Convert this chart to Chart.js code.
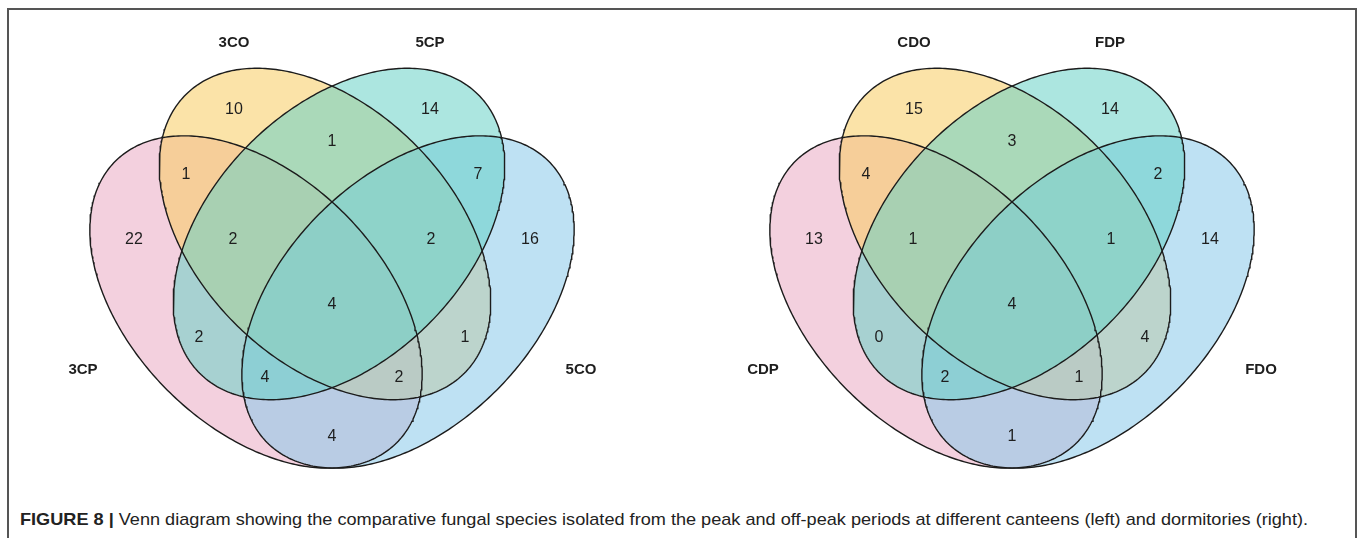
<!DOCTYPE html>
<html>
<head>
<meta charset="utf-8">
<script src="https://cdn.jsdelivr.net/npm/chart.js@4.4.0/dist/chart.umd.min.js"></script>
<style>
  html, body { margin: 0; padding: 0; background: #fff; }
  body { width: 1360px; height: 538px; position: relative; overflow: hidden; font-family: 'Liberation Sans', Arial, sans-serif; }
  .frame { position: absolute; left: 7px; top: 8px; width: 1346px; height: 600px; border: 2px solid #555; }
  .panel { position: absolute; top: 0; }
  #canteens { left: 0; }
  #dorms { left: 680px; }
  .caption { position: absolute; left: 20px; top: 510px; font-size: 17px; line-height: 19px; white-space: nowrap; color: #222; transform-origin: left top; }
</style>
</head>
<body>
<div class="frame"></div>
<canvas id="canteens" class="panel" width="680" height="480"></canvas>
<canvas id="dorms" class="panel" width="680" height="480"></canvas>
<div class="caption" id="caption"><b>FIGURE 8 |</b> Venn diagram showing the comparative fungal species isolated from the peak and off-peak periods at different canteens (left) and dormitories (right).</div>
<script>
// region order: A, B, C, D are the four sets (left-bottom, left-top, right-top, right-bottom)
const regionKeys = ['A', 'B', 'C', 'D', 'AB', 'AC', 'AD', 'BC', 'BD', 'CD', 'ABC', 'ABD', 'ACD', 'BCD', 'ABCD']

const canteenSets = ['3CP', '3CO', '5CP', '5CO']
const canteenCounts = [22, 10, 14, 16, 1, 2, 4, 1, 1, 7, 2, 2, 4, 2, 4]

const dormSets = ['CDP', 'CDO', 'FDP', 'FDO']
const dormCounts = [13, 15, 14, 14, 4, 0, 1, 3, 4, 2, 1, 1, 2, 1, 4]

// start: layout (diagram units, y up). layer = paint order, 0 at the bottom
const ellipses = [
    { cx: 0.512, cy: 0.356, a: 0.398, b: 0.250, rot: -45, layer: 0, fill: 'rgba(233,170,195,0.55)' },
    { cx: 0.650, cy: 0.492, a: 0.394, b: 0.254, rot: -45, layer: 1, fill: 'rgba(248,204,97,0.55)' },
    { cx: 0.678, cy: 0.492, a: 0.394, b: 0.254, rot: 45, layer: 3, fill: 'rgba(104,210,199,0.55)' },
    { cx: 0.816, cy: 0.356, a: 0.398, b: 0.250, rot: 45, layer: 2, fill: 'rgba(137,201,233,0.55)' }
]
const regionPos = {
    A: [0.268, 0.48], B: [0.468, 0.74], C: [0.86, 0.74], D: [1.06, 0.48],
    AB: [0.372, 0.61], AC: [0.398, 0.284], AD: [0.664, 0.086],
    BC: [0.664, 0.676], BD: [0.93, 0.284], CD: [0.956, 0.61],
    ABC: [0.466, 0.48], ABD: [0.798, 0.204], ACD: [0.53, 0.204], BCD: [0.862, 0.48],
    ABCD: [0.664, 0.35]
}
const setLabelPos = [[0.166, 0.22], [0.468, 0.874], [0.86, 0.874], [1.162, 0.22]]
// end: layout

function ellipsePoints(e) {
    const pts = []
    const r = e.rot * Math.PI / 180
    const n = 360
    for (let i = 0; i <= n; i++) {
        const t = i / n * 2 * Math.PI
        const px = e.a * Math.cos(t)
        const py = e.b * Math.sin(t)
        pts.push({ x: e.cx + px * Math.cos(r) - py * Math.sin(r), y: e.cy + px * Math.sin(r) + py * Math.cos(r) })
    }
    return pts
}

const regionLabels = {
    id: 'regionLabels',
    afterDatasetsDraw(chart, args, opts) {
        const { ctx } = chart
        const x = chart.scales.x
        const y = chart.scales.y
        ctx.save()
        ctx.fillStyle = '#1e1e1e'
        ctx.textAlign = 'center'
        ctx.textBaseline = 'middle'
        ctx.font = '16px "Liberation Sans", Arial, sans-serif'
        opts.counts.forEach(function (n, i) {
            const p = regionPos[regionKeys[i]]
            ctx.fillText(String(n), x.getPixelForValue(p[0]), y.getPixelForValue(p[1]))
        })
        ctx.font = 'bold 15px "Liberation Sans", Arial, sans-serif'
        opts.sets.forEach(function (s, i) {
            const p = setLabelPos[i]
            ctx.fillText(s, x.getPixelForValue(p[0]), y.getPixelForValue(p[1]))
        })
        ctx.restore()
    }
}

function drawVenn(id, sets, counts) {
    // chart.js paints the highest order first
    const datasets = sets.map(function (name, i) {
        return {
            label: name,
            data: ellipsePoints(ellipses[i]),
            order: 10 - ellipses[i].layer,
            showLine: true,
            fill: 'shape',
            backgroundColor: ellipses[i].fill,
            borderColor: '#1c1c1c',
            borderWidth: 1.4,
            pointRadius: 0,
            tension: 0
        }
    })

    new Chart(document.getElementById(id), {
        type: 'scatter',
        data: { datasets: datasets },
        options: {
            responsive: false,
            animation: false,
            layout: { padding: 0 },
            scales: {
                x: { type: 'linear', min: 0, max: 1.36, display: false },
                y: { type: 'linear', min: 0, max: 0.96, display: false }
            },
            plugins: {
                legend: { display: false },
                tooltip: { enabled: false },
                filler: { drawTime: 'beforeDatasetsDraw' },
                regionLabels: { sets: sets, counts: counts }
            }
        },
        plugins: [regionLabels]
    })
}

drawVenn('canteens', canteenSets, canteenCounts)
drawVenn('dorms', dormSets, dormCounts)

// fit the caption to the width it has in the figure
const caption = document.getElementById('caption')
caption.style.transform = 'scaleX(' + (1288 / caption.offsetWidth) + ')'
</script>
</body>
</html>
